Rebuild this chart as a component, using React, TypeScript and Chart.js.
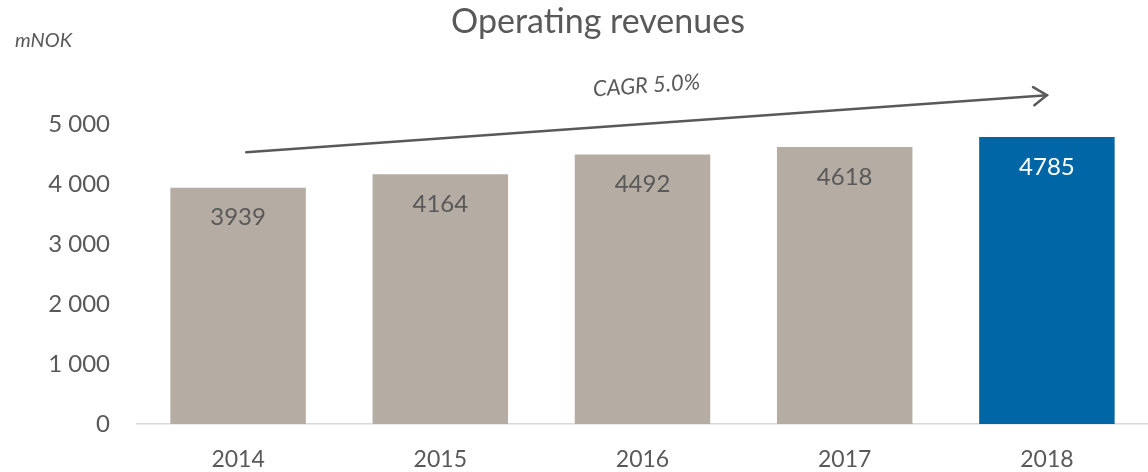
import React, { useEffect, useRef } from "react";
import { Chart, registerables } from "chart.js";

Chart.register(...registerables);

const categories = ["2014", "2015", "2016", "2017", "2018"];
const revenues = [3939, 4164, 4492, 4618, 4785];
const barColors = ["#B5ACA3", "#B5ACA3", "#B5ACA3", "#B5ACA3", "#0066A6"];
const labelColors = ["#595959", "#595959", "#595959", "#595959", "#FFFFFF"];
const yTicks = [0, 1000, 2000, 3000, 4000, 5000];
// CAGR arrow, in data terms: [category index, value]
const arrowStart = [0.04, 4530];
const arrowEnd = [4.0, 5480];
const cagrLabel = "CAGR 5.0%";
const unitLabel = "mNOK";
const titleText = "Operating revenues";

const TEXT = "#595959";
const FONT = "Lato, 'Open Sans', sans-serif";

const overlayPlugin = {
  id: "overlay",
  afterDatasetsDraw(chart: any) {
    const ctx = chart.ctx;
    const x = chart.scales.x;
    const y = chart.scales.y;
    const meta = chart.getDatasetMeta(0);
    ctx.save();
    // value labels inside bars
    ctx.font = `24px ${FONT}`;
    ctx.textAlign = "center";
    ctx.textBaseline = "middle";
    meta.data.forEach((bar: any, i: number) => {
      ctx.fillStyle = labelColors[i];
      ctx.fillText(String(revenues[i]), bar.x, bar.y + 30);
    });
    // title
    ctx.fillStyle = TEXT;
    ctx.font = `34px ${FONT}`;
    ctx.fillText(titleText, 598, 22);
    // arrow
    const x0 = x.getPixelForValue(arrowStart[0]);
    const y0 = y.getPixelForValue(arrowStart[1]);
    const x1 = x.getPixelForValue(arrowEnd[0]);
    const y1 = y.getPixelForValue(arrowEnd[1]);
    ctx.strokeStyle = TEXT;
    ctx.lineWidth = 2.5;
    ctx.lineCap = "round";
    ctx.beginPath();
    ctx.moveTo(x0, y0);
    ctx.lineTo(x1, y1);
    ctx.stroke();
    const ang = Math.atan2(y1 - y0, x1 - x0);
    const h = 16;
    ctx.beginPath();
    ctx.moveTo(x1 - h * Math.cos(ang - 0.6), y1 - h * Math.sin(ang - 0.6));
    ctx.lineTo(x1, y1);
    ctx.lineTo(x1 - h * Math.cos(ang + 0.6), y1 - h * Math.sin(ang + 0.6));
    ctx.stroke();
    // CAGR label
    const mx = x0 + (x1 - x0) * 0.5;
    const my = y0 + (y1 - y0) * 0.5 - 38;
    ctx.translate(mx, my);
    ctx.rotate(ang);
    ctx.font = `italic 22px ${FONT}`;
    ctx.fillStyle = TEXT;
    ctx.fillText(cagrLabel, 0, 0);
    ctx.restore();
    // unit label
    ctx.save();
    ctx.font = `italic 20px ${FONT}`;
    ctx.fillStyle = TEXT;
    ctx.textAlign = "left";
    ctx.textBaseline = "middle";
    ctx.fillText(unitLabel, 15, 41);
    ctx.restore();
  },
};

export default function App() {
  const ref = useRef<HTMLCanvasElement>(null);
  useEffect(() => {
    const chart = new Chart(ref.current!, {
      type: "bar",
      data: {
        labels: categories,
        datasets: [
          {
            data: revenues,
            backgroundColor: barColors,
            barPercentage: 0.67,
            categoryPercentage: 1,
          },
        ],
      },
      options: {
        animation: false,
        responsive: true,
        maintainAspectRatio: false,
        layout: { padding: { left: 0, right: 0, top: 64, bottom: 0 } },
        plugins: {
          legend: { display: false },
          tooltip: { enabled: false },
          title: { display: false },
        },
        scales: {
          x: {
            afterFit: (s: any) => {
              s.height = 48;
            },
            grid: { display: false },
            border: { display: true, color: "#D9D9D9", width: 1.5 },
            ticks: { color: TEXT, font: { family: FONT, size: 23 }, padding: 14 },
          },
          y: {
            min: 0,
            max: 6000,
            afterFit: (s: any) => {
              s.width = 137;
            },
            afterBuildTicks: (s: any) => {
              s.ticks = [...yTicks, 6000].map((v) => ({ value: v }));
            },
            grid: { display: false },
            border: { display: false },
            ticks: {
              color: TEXT,
              font: { family: FONT, size: 24 },
              padding: 19,
              callback: (v: any) =>
                yTicks.includes(Number(v))
                  ? Number(v).toLocaleString("en-US").replace(/,/g, " ")
                  : "",
            },
          },
        },
      },
      plugins: [overlayPlugin],
    });
    return () => chart.destroy();
  }, []);
  return (
    <div style={{ position: "fixed", left: 0, top: 0, width: 1148, height: 472, background: "#fff" }}>
      <canvas ref={ref} />
    </div>
  );
}
